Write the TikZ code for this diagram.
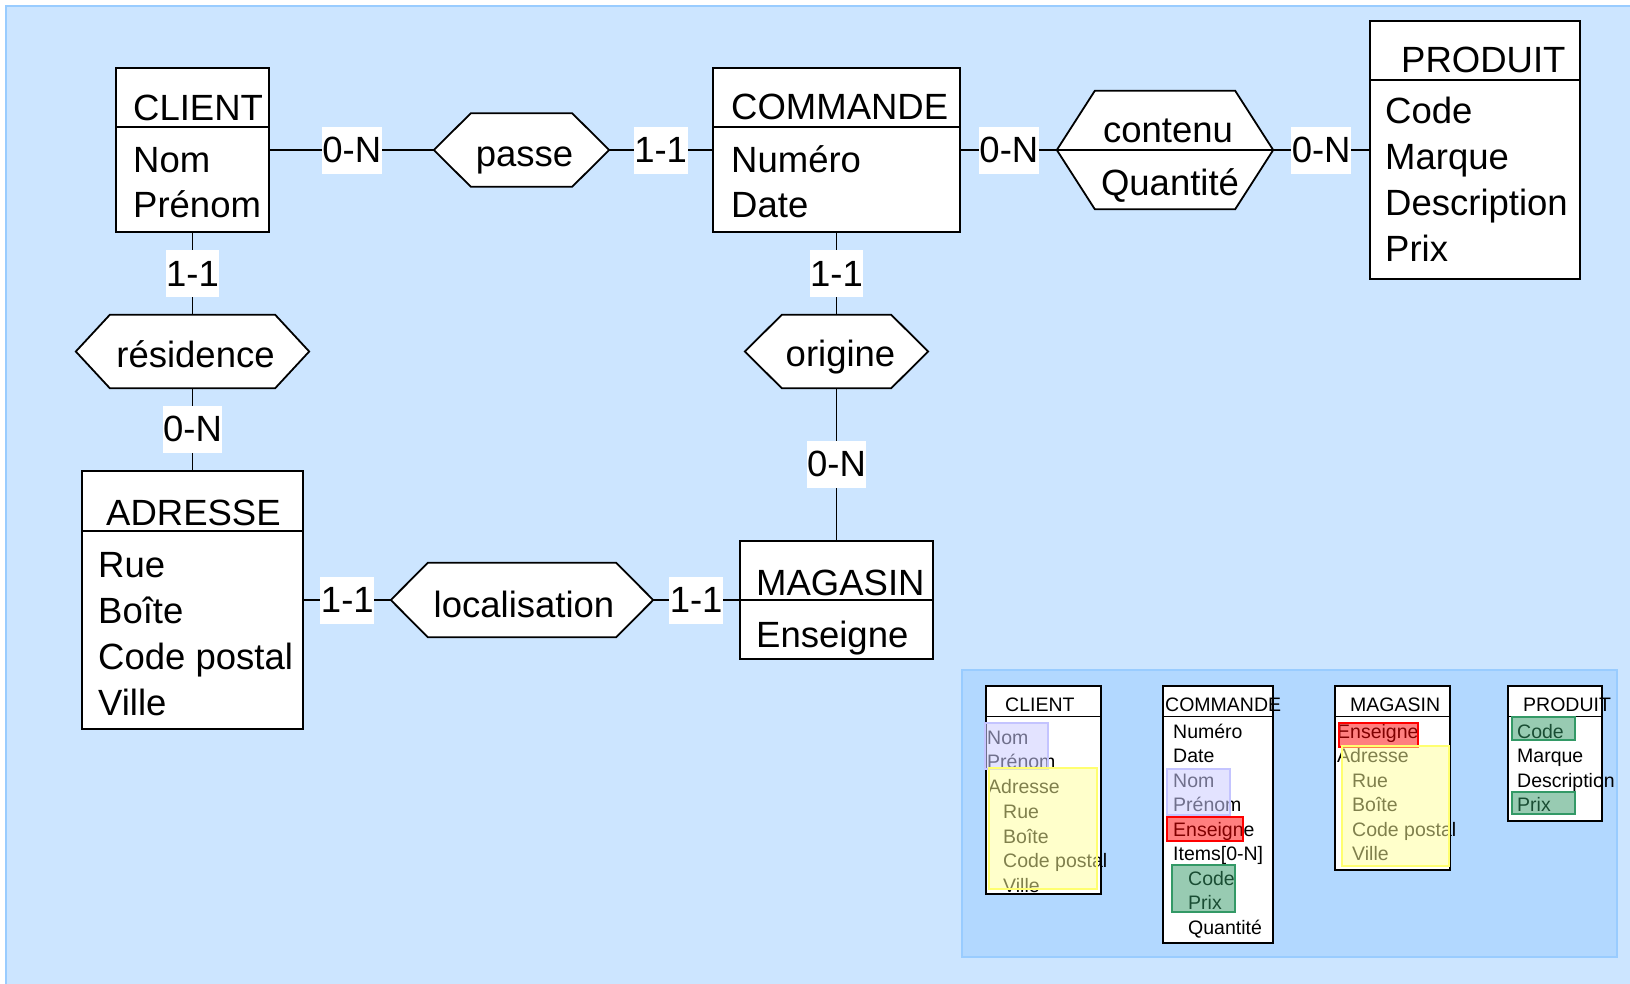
\documentclass[tikz,border=0pt]{standalone}
\usepackage{fontspec}
\setmainfont{Liberation Sans}
\usetikzlibrary{calc}

\definecolor{bgblue}{HTML}{CCE5FF}
\definecolor{edgeblue}{HTML}{99CCFF}
\definecolor{lavender}{HTML}{CCCCFF}
\definecolor{lavenderedge}{HTML}{C4C4FF}
\definecolor{hlyellow}{HTML}{FFFF99}
\definecolor{hlyellowedge}{HTML}{FFFF70}
\definecolor{hlgreen}{HTML}{339966}

\newcommand\bigfont{\fontsize{36.5}{44}\selectfont}
\newcommand\smallfont{\fontsize{19.5}{24}\selectfont}

% hexagon outline drawn on the anchors of a (hidden) rectangle node
\newcommand\hexoutline[2]{%
  \draw[relline] (#1.west) -- ([xshift=#2]#1.north west) -- ([xshift=-#2]#1.north east)
    -- (#1.east) -- ([xshift=-#2]#1.south east) -- ([xshift=#2]#1.south west) -- cycle;}

\tikzset{
  big/.style={font=\bigfont, inner sep=0, anchor=base west},
  small/.style={font=\smallfont, inner sep=0, anchor=base west},
  entity/.style={draw, line width=1.8, fill=white, inner sep=0},
  minibox/.style={draw, line width=1.2, fill=white, inner sep=0},
  hexbox/.style={draw=none, inner sep=0},
  relline/.style={draw, line width=1.8, fill=white, line join=miter},
  link/.style={line width=1.8},
  card/.style={fill=white, inner xsep=0.5, inner ysep=0, minimum height=47, font=\bigfont},
  hlnames/.style={fill=lavender, fill opacity=0.55, draw=lavenderedge, line width=2},
  hladdr/.style={fill=hlyellow, fill opacity=0.5, draw=hlyellowedge, line width=2},
  hlshop/.style={fill=red, fill opacity=0.5, draw=red, line width=2},
  hlprod/.style={fill=hlgreen, fill opacity=0.5, draw=hlgreen, line width=2},
}

\begin{document}
\begin{tikzpicture}[x=1pt, y=-1pt]
\useasboundingbox (0,0) rectangle (1630,983);

% background and inset panel
\draw[edgeblue, fill=bgblue, line width=2] (6,6) rectangle (1640,993);
\draw[edgeblue, fill=edgeblue, fill opacity=0.5, line width=2] (962,670) rectangle (1617,957);

% ---------- entities ----------
\node[entity, minimum width=153, minimum height=164] (client) at (192.5,150) {};
\draw[link] ([yshift=-60]client.north west) -- ([yshift=-60]client.north east);
\node[big] (client-t) at (133,120) {CLIENT};
\node[big] (client-a1) at (133,172) {Nom};
\node[big] (client-a2) at (133,217) {Prénom};

\node[entity, minimum width=247, minimum height=164] (commande) at (836.5,150) {};
\draw[link] ([yshift=-60]commande.north west) -- ([yshift=-60]commande.north east);
\node[big] (commande-t) at (731,119) {COMMANDE};
\node[big] (commande-a1) at (731,172) {Numéro};
\node[big] (commande-a2) at (731,217) {Date};

\node[entity, minimum width=210, minimum height=258] (produit) at (1475,150) {};
\draw[link] ([yshift=-60]produit.north west) -- ([yshift=-60]produit.north east);
\node[big] (produit-t) at (1401,72) {PRODUIT};
\node[big] (produit-a1) at (1385,123) {Code};
\node[big] (produit-a2) at (1385,169) {Marque};
\node[big] (produit-a3) at (1385,215) {Description};
\node[big] (produit-a4) at (1385,261) {Prix};

\node[entity, minimum width=221, minimum height=258] (adresse) at (192.5,600) {};
\draw[link] ([yshift=-61]adresse.north west) -- ([yshift=-61]adresse.north east);
\node[big] (adresse-t) at (106,525) {ADRESSE};
\node[big] (adresse-a1) at (98,577) {Rue};
\node[big] (adresse-a2) at (98,623) {Boîte};
\node[big] (adresse-a3) at (98,669) {Code postal};
\node[big] (adresse-a4) at (98,715) {Ville};

\node[entity, minimum width=193, minimum height=118] (magasin) at (836.5,600) {};
\draw[link] ([yshift=-60]magasin.north west) -- ([yshift=-60]magasin.north east);
\node[big] (magasin-t) at (756,595) {MAGASIN};
\node[big] (magasin-a1) at (756,647) {Enseigne};

% ---------- relationships ----------
\node[hexbox, minimum width=175, minimum height=73] (passe) at (521.5,150) {};
\hexoutline{passe}{37}
\node[big, anchor=base] (passe-t) at ([xshift=3,yshift=-16]passe.center) {passe};

\node[hexbox, minimum width=216, minimum height=118] (contenu) at (1165,150) {};
\hexoutline{contenu}{38}
\draw[link] (contenu.west) -- (contenu.east);
\node[big, anchor=base] (contenu-t) at (1168,142) {contenu};
\node[big, anchor=base] (contenu-a) at (1170,195) {Quantité};

\node[hexbox, minimum width=233, minimum height=73] (residence) at (192.5,351.5) {};
\hexoutline{residence}{34}
\node[big, anchor=base] (residence-t) at ([xshift=3,yshift=-16]residence.center) {résidence};

\node[hexbox, minimum width=183, minimum height=73] (origine) at (836.5,351.5) {};
\hexoutline{origine}{37}
\node[big, anchor=base] (origine-t) at ([xshift=4,yshift=-15]origine.center) {origine};

\node[hexbox, minimum width=262, minimum height=74] (localisation) at (522,600) {};
\hexoutline{localisation}{37}
\node[big, anchor=base] (localisation-t) at ([xshift=2,yshift=-17]localisation.center) {localisation};

% ---------- connectors with cardinalities ----------
\draw[link] (client.east) -- node[card] (c1) {0-N} (passe.west);
\draw[link] (passe.east) -- node[card] (c2) {1-1} (commande.west);
\draw[link] (commande.east) -- node[card] (c3) {0-N} (contenu.west);
\draw[link] (contenu.east) -- node[card] (c4) {0-N} (produit.west);
\draw[link] (client.south) -- node[card] (c5) {1-1} (residence.north);
\draw[link] (residence.south) -- node[card] (c6) {0-N} (adresse.north);
\draw[link] (commande.south) -- node[card] (c7) {1-1} (origine.north);
\draw[link] (origine.south) -- node[card] (c8) {0-N} (magasin.north);
\draw[link] (adresse.east) -- node[card] (c9) {1-1} (localisation.west);
\draw[link] (localisation.east) -- node[card] (c10) {1-1} (magasin.west);

% ---------- flattened structures ----------
% client
\node[minibox, minimum width=115, minimum height=208] (mclient) at (1043.5,790) {};
\draw[line width=1.2] ([yshift=-31]mclient.north west) -- ([yshift=-31]mclient.north east);
\node[small] (mclient-t) at (1005,711) {CLIENT};
\node[small] (mclient-a1) at (987,744) {Nom};
\node[small] (mclient-a2) at (987,768.75) {Prénom};
\node[small] (mclient-a3) at (988,793.5) {Adresse};
\node[small] (mclient-a4) at (1003,818.25) {Rue};
\node[small] (mclient-a5) at (1003,843) {Boîte};
\node[small] (mclient-a6) at (1003,867.75) {Code postal};
\node[small] (mclient-a7) at (1003,892.5) {Ville};
\draw[hlnames] (985,723) rectangle (1048,769);
\draw[hladdr] (989,768) rectangle (1097,889);

% commande
\node[minibox, minimum width=110, minimum height=257] (mcommande) at (1218,814.5) {};
\draw[line width=1.2] ([yshift=-31]mcommande.north west) -- ([yshift=-31]mcommande.north east);
\node[small] (mcommande-t) at (1165,711) {COMMANDE};
\node[small] (mcommande-a1) at (1173,738) {Numéro};
\node[small] (mcommande-a2) at (1173,762.5) {Date};
\node[small] (mcommande-a3) at (1173,787) {Nom};
\node[small] (mcommande-a4) at (1173,811.5) {Prénom};
\node[small] (mcommande-a5) at (1173,836) {Enseigne};
\node[small] (mcommande-a6) at (1173,860.5) {Items[0-N]};
\node[small] (mcommande-a7) at (1188,885) {Code};
\node[small] (mcommande-a8) at (1188,909.5) {Prix};
\node[small] (mcommande-a9) at (1188,934) {Quantité};
\draw[hlnames] (1167,769) rectangle (1230,815);
\draw[hlshop] (1167,817) rectangle (1243,841);
\draw[hlprod] (1172,865) rectangle (1235,912);

% magasin
\node[minibox, minimum width=115, minimum height=184] (mmagasin) at (1392.5,778) {};
\draw[line width=1.2] ([yshift=-31]mmagasin.north west) -- ([yshift=-31]mmagasin.north east);
\node[small] (mmagasin-t) at (1350,711) {MAGASIN};
\node[small] (mmagasin-a1) at (1337,738) {Enseigne};
\node[small] (mmagasin-a2) at (1337,762.5) {Adresse};
\node[small] (mmagasin-a3) at (1352,787) {Rue};
\node[small] (mmagasin-a4) at (1352,811.5) {Boîte};
\node[small] (mmagasin-a5) at (1352,836) {Code postal};
\node[small] (mmagasin-a6) at (1352,860.5) {Ville};
\draw[hlshop] (1339,723) rectangle (1418,747);
\draw[hladdr] (1342,746) rectangle (1449,866);

% produit
\node[minibox, minimum width=94, minimum height=135] (mproduit) at (1555,753.5) {};
\draw[line width=1.2] ([yshift=-31]mproduit.north west) -- ([yshift=-31]mproduit.north east);
\node[small] (mproduit-t) at (1523,711) {PRODUIT};
\node[small] (mproduit-a1) at (1517,738) {Code};
\node[small] (mproduit-a2) at (1517,762.5) {Marque};
\node[small] (mproduit-a3) at (1517,787) {Description};
\node[small] (mproduit-a4) at (1517,811.5) {Prix};
\draw[hlprod] (1512,717) rectangle (1575,740);
\draw[hlprod] (1512,792) rectangle (1575,814);
\end{tikzpicture}
\end{document}
